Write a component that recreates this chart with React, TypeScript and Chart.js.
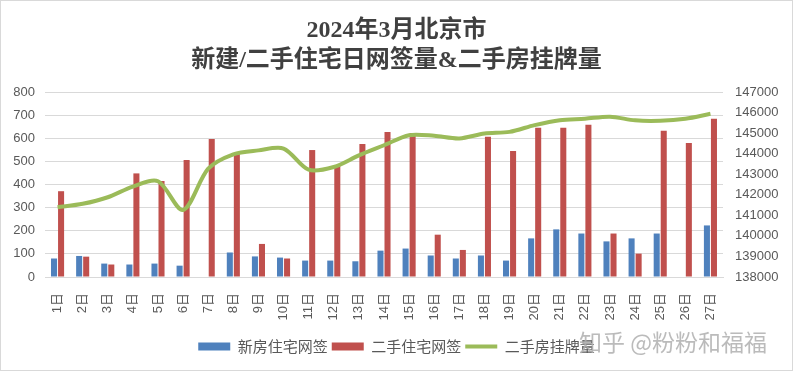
import React, { useEffect, useRef } from "react";
import { Chart, registerables } from "chart.js";

Chart.register(...registerables);

const titleLines = ["2024年3月北京市", "新建/二手住宅日网签量&二手房挂牌量"];
const days = [
  "1日", "2日", "3日", "4日", "5日", "6日", "7日", "8日", "9日", "10日",
  "11日", "12日", "13日", "14日", "15日", "16日", "17日", "18日", "19日", "20日",
  "21日", "22日", "23日", "24日", "25日", "26日", "27日",
];
const newHomeSigns = [80, 91, 58, 54, 58, 49, 0, 106, 89, 84, 71, 71, 68, 114, 123, 93, 80, 93, 71, 167, 206, 188, 154, 167, 188, 0, 223];
const resaleSigns = [371, 88, 54, 448, 415, 506, 597, 533, 143, 80, 549, 480, 575, 627, 623, 183, 117, 606, 545, 645, 645, 658, 188, 101, 632, 580, 684];
const listings = [141390, 141560, 141880, 142400, 142660, 141260, 143270, 143970, 144160, 144250, 143220, 143350, 143920, 144410, 144900, 144870, 144740, 144980, 145060, 145390, 145630, 145700, 145800, 145620, 145600, 145700, 145940];
const seriesNames = ["新房住宅网签", "二手住宅网签", "二手房挂牌量"];
const watermark = "知乎 @粉粉和福福";

const tickFont = { family: "'Liberation Sans', 'Noto Sans CJK SC', sans-serif", size: 13 };
const tickColor = "#595959";

export default function App() {
  const ref = useRef<HTMLCanvasElement>(null);
  useEffect(() => {
    const chart = new Chart(ref.current as HTMLCanvasElement, {
      type: "bar",
      data: {
        labels: days,
        datasets: [
          {
            type: "bar",
            label: seriesNames[0],
            data: newHomeSigns,
            backgroundColor: "#4F81BD",
            borderWidth: 0,
            yAxisID: "y",
            categoryPercentage: 0.56,
            barPercentage: 0.86,
            pointStyle: "rect",
            order: 1,
          } as any,
          {
            type: "bar",
            label: seriesNames[1],
            data: resaleSigns,
            backgroundColor: "#C0504D",
            borderWidth: 0,
            yAxisID: "y",
            categoryPercentage: 0.56,
            barPercentage: 0.86,
            pointStyle: "rect",
            order: 1,
          } as any,
          {
            type: "line",
            label: seriesNames[2],
            data: listings,
            borderColor: "#9BBB59",
            backgroundColor: "#9BBB59",
            borderWidth: 4,
            pointRadius: 0,
            tension: 0.3,
            yAxisID: "y1",
            pointStyle: "line",
            order: 0,
          } as any,
        ],
      },
      options: {
        responsive: false,
        animation: false,
        layout: { padding: { left: 0, right: 0, top: 0, bottom: 7 } },
        plugins: {
          title: {
            display: true,
            text: titleLines,
            color: "#404040",
            font: {
              family: "'Liberation Serif', 'Noto Sans CJK SC', serif",
              size: 24,
              weight: "bold",
              lineHeight: 1.25,
            },
            padding: { top: 16, bottom: 16 },
          },
          legend: {
            position: "bottom",
            labels: {
              usePointStyle: true,
              pointStyleWidth: 32,
              boxHeight: 8,
              padding: 4,
              color: "#595959",
              font: { family: "'Noto Sans CJK SC', sans-serif", size: 15 },
              sort: (a: any, b: any) => a.datasetIndex - b.datasetIndex,
            },
          },
          tooltip: { enabled: false },
        },
        scales: {
          x: {
            grid: { display: false },
            border: { color: "#d9d9d9" },
            ticks: {
              autoSkip: false,
              minRotation: 90,
              maxRotation: 90,
              color: tickColor,
              font: tickFont,
              padding: 8,
            },
            afterFit: (s: any) => {
              s.height = 58;
            },
          },
          y: {
            position: "left",
            min: 0,
            max: 800,
            ticks: { stepSize: 100, padding: 10, color: tickColor, font: tickFont },
            grid: { color: "#d9d9d9", drawTicks: false },
            border: { display: false },
            afterFit: (s: any) => {
              s.width = 45;
            },
          },
          y1: {
            position: "right",
            min: 138000,
            max: 147000,
            ticks: {
              stepSize: 1000,
              padding: 12,
              color: tickColor,
              font: tickFont,
              callback: (v: any) => String(v),
            },
            grid: { display: false, drawTicks: false },
            border: { display: false },
            afterFit: (s: any) => {
              s.width = 70;
            },
          },
        },
      } as any,
    });
    return () => chart.destroy();
  }, []);

  return (
    <div style={{ position: "absolute", left: 0, top: 0, width: 793, height: 371, background: "#fff" }}>
      <canvas
        ref={ref}
        width={793}
        height={371}
        style={{ position: "absolute", left: 0, top: 0, width: 793, height: 371 }}
      />
      <div
        style={{
          position: "absolute",
          left: 0,
          top: 0,
          width: 793,
          height: 371,
          boxSizing: "border-box",
          border: "1px solid #d9d9d9",
          pointerEvents: "none",
        }}
      />
      <div
        style={{
          position: "absolute",
          left: 579,
          top: 328,
          fontFamily: "'Noto Sans CJK SC', sans-serif",
          fontSize: 23,
          lineHeight: "26px",
          color: "rgba(175,175,175,0.85)",
          whiteSpace: "nowrap",
          pointerEvents: "none",
        }}
      >
        {watermark}
      </div>
    </div>
  );
}
